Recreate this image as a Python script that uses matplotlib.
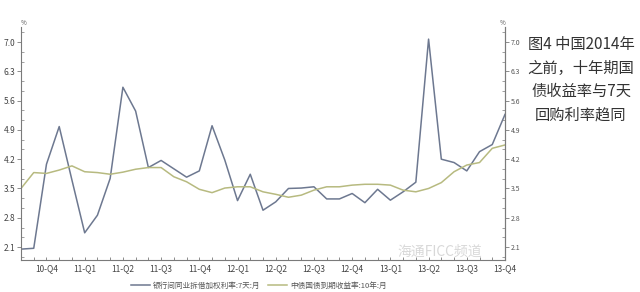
#!/usr/bin/python
# -*- coding: utf-8 -*-

import matplotlib
matplotlib.use('Agg')
import matplotlib.pyplot as plt
from matplotlib.ticker import MultipleLocator

plt.rcParams['font.family'] = ['Noto Sans CJK SC', 'DejaVu Sans']

# monthly, Aug 2010 .. Oct 2013
repo_7d = [2.05, 2.07, 4.08, 4.98, 3.70, 2.44, 2.86, 3.74, 5.92, 5.35,
           4.00, 4.17, 3.97, 3.77, 3.92, 5.00, 4.18, 3.21, 3.84, 2.98,
           3.18, 3.50, 3.51, 3.54, 3.25, 3.25, 3.38, 3.16, 3.48, 3.22,
           3.42, 3.65, 7.07, 4.20, 4.12, 3.92, 4.38, 4.55, 5.27]
bond_10y = [3.50, 3.88, 3.86, 3.94, 4.04, 3.90, 3.88, 3.84, 3.89, 3.96,
            4.00, 4.00, 3.78, 3.66, 3.48, 3.40, 3.51, 3.54, 3.54, 3.42,
            3.36, 3.29, 3.34, 3.46, 3.54, 3.54, 3.58, 3.60, 3.60, 3.58,
            3.46, 3.42, 3.50, 3.64, 3.90, 4.06, 4.12, 4.46, 4.54]
quarter_labels = ['10-Q4', '11-Q1', '11-Q2', '11-Q3', '11-Q4', '12-Q1', '12-Q2',
                  '12-Q3', '12-Q4', '13-Q1', '13-Q2', '13-Q3', '13-Q4']
y_ticks = [2.1, 2.8, 3.5, 4.2, 4.9, 5.6, 6.3, 7.0]
legend_names = ['银行间同业拆借加权利率:7天:月', '中债国债到期收益率:10年:月']
title_text = '图4 中国2014年\n之前，十年期国\n债收益率与7天\n回购利率趋同'

x = list(range(len(repo_7d)))
quarter_pos = [2 + 3 * i for i in range(len(quarter_labels))]

fig = plt.figure(figsize=(6.4, 2.92), dpi=100)
ax = fig.add_axes([21 / 640, 32 / 292, 484 / 640, 233 / 292])

axis_col = '#7a7a7a'
l1, = ax.plot(x, repo_7d, color='#6d7890', lw=1.1)
l2, = ax.plot(x, bond_10y, color='#b7ba80', lw=1.1)

ax.set_xlim(0, len(repo_7d) - 1)
ax.set_ylim(1.79, 7.36)

ax.spines['top'].set_visible(False)
for s in ['left', 'right', 'bottom']:
    ax.spines[s].set_color(axis_col)
    ax.spines[s].set_linewidth(0.8)

ax.set_yticks(y_ticks)
ax.set_yticklabels(['%.1f' % v for v in y_ticks])
ax.yaxis.set_minor_locator(MultipleLocator(0.7 / 3))
ax.tick_params(axis='y', which='major', direction='out', length=3, width=0.6,
               colors=axis_col, labelcolor='#444444', labelsize=6, pad=1)
ax.tick_params(axis='y', which='minor', direction='in', length=2, width=0.5,
               colors=axis_col)

ax2 = ax.twinx()
ax2.set_ylim(ax.get_ylim())
ax2.set_yticks(y_ticks)
ax2.set_yticklabels(['%.1f' % v for v in y_ticks])
ax2.yaxis.set_minor_locator(MultipleLocator(0.7 / 3))
ax2.tick_params(axis='y', which='major', direction='out', length=3, width=0.6,
                colors=axis_col, labelcolor='#555555', labelsize=5, pad=1)
ax2.tick_params(axis='y', which='minor', direction='in', length=2, width=0.5,
                colors=axis_col)
for s in ['top', 'left', 'bottom']:
    ax2.spines[s].set_visible(False)
ax2.spines['right'].set_color(axis_col)

ax.set_xticks(quarter_pos)
ax.set_xticklabels(quarter_labels)
ax.set_xticks(x, minor=True)
ax.tick_params(axis='x', which='both', direction='in', length=2.5, width=0.6,
               colors=axis_col, labelcolor='#444444', labelsize=6, pad=3)

ax.text(0, 1.0, '%', transform=ax.transAxes, fontsize=4.5, color='#555555',
        ha='left', va='bottom')
ax.text(1, 1.0, '%', transform=ax.transAxes, fontsize=4.5, color='#555555',
        ha='right', va='bottom')

fig.legend([l1, l2], legend_names, loc='center', bbox_to_anchor=(259 / 640, 1 - 286 / 292),
           ncol=2, frameon=False, fontsize=5.5, labelcolor='#555555',
           handlelength=2.5, columnspacing=1.0, handletextpad=0.4)

fig.text(581 / 640, 1 - 36 / 292, title_text, ha='center', va='top',
         fontsize=11, color='#333333', linespacing=1.5)

# watermark, kept just above the axis so it does not sit on the tick labels
fig.text(440 / 640, 1 - 252 / 292, '海通FICC频道', ha='center', va='center',
         fontsize=10, color='#c8c8c8', alpha=0.7)

fig.savefig('out.png', dpi=100)
